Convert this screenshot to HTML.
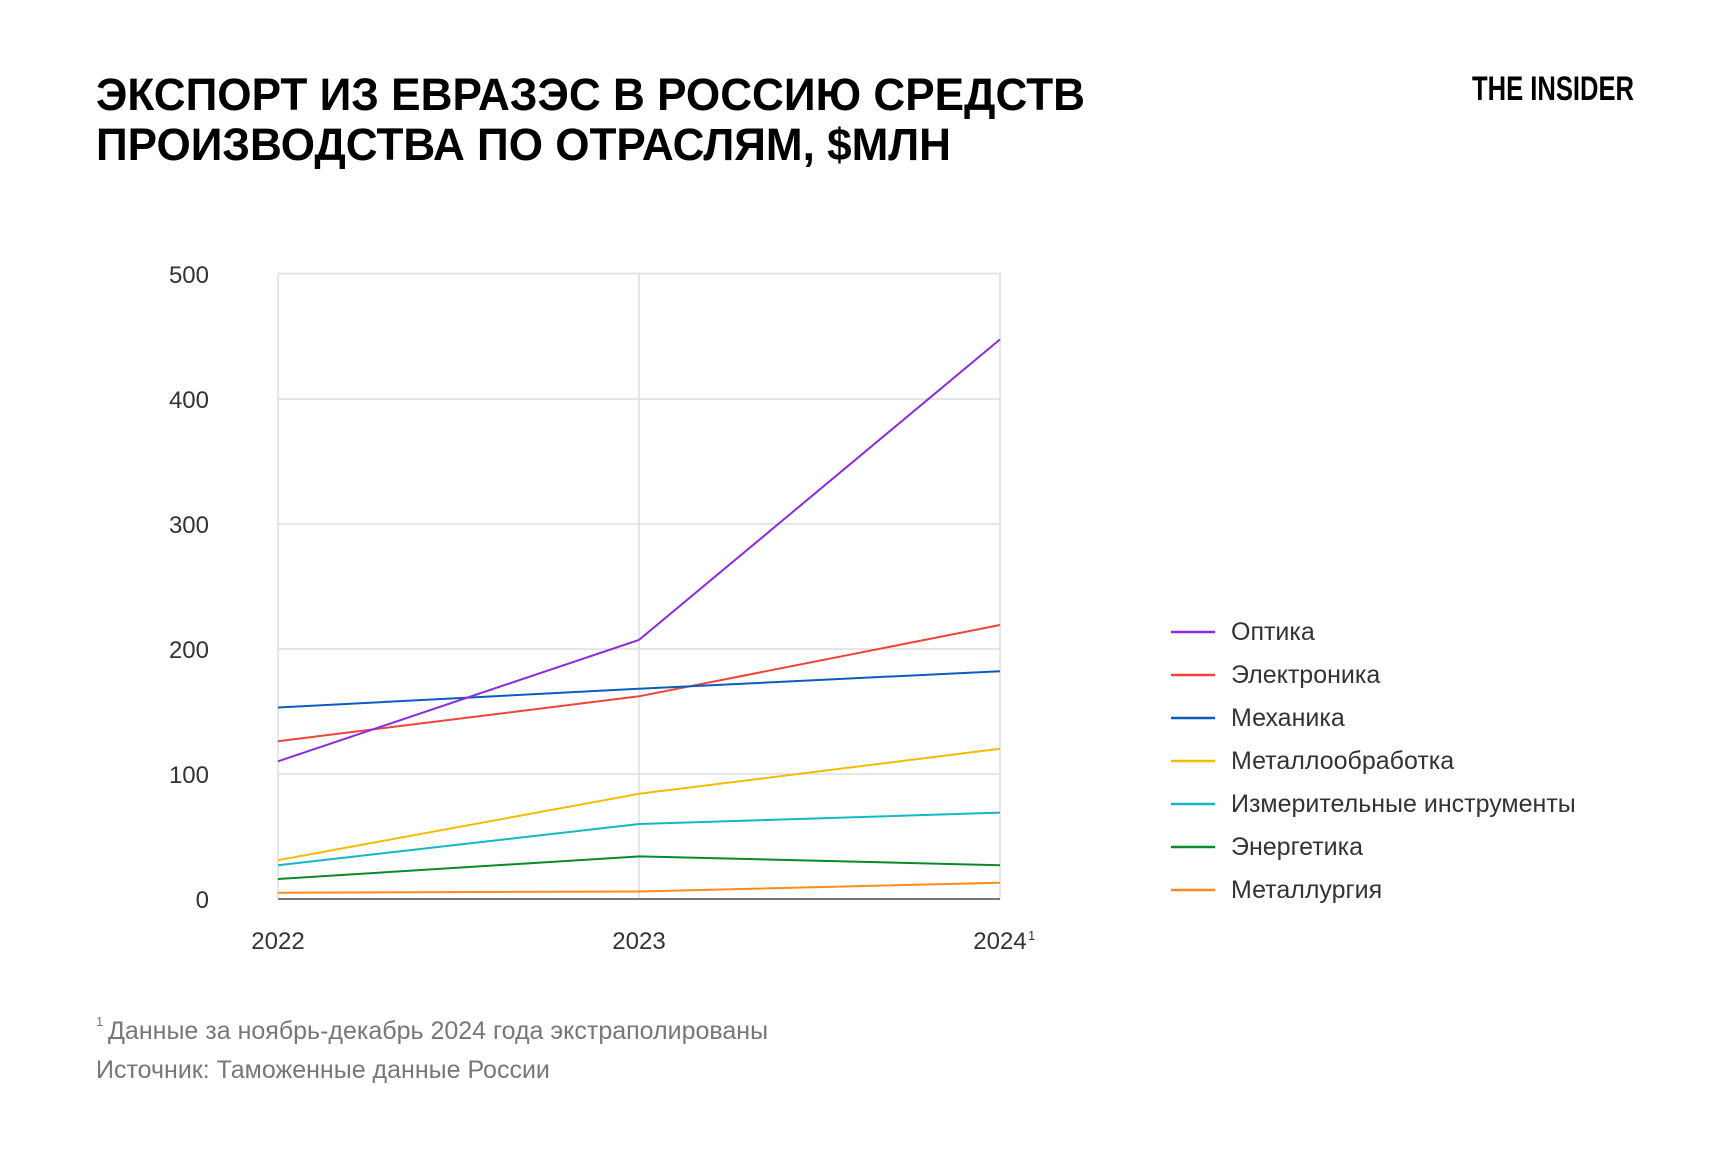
<!DOCTYPE html>
<html><head><meta charset="utf-8"><style>
html,body{margin:0;padding:0;background:#fff;}
body{width:1732px;height:1155px;overflow:hidden;position:relative;font-family:"Liberation Sans",sans-serif;}
</style></head><body>
<svg width="1732" height="1155" xmlns="http://www.w3.org/2000/svg" style="position:absolute;left:0;top:0">
<text x="96" y="110" font-family="Liberation Sans, sans-serif" font-weight="bold" font-size="45" fill="#000" textLength="989" lengthAdjust="spacingAndGlyphs">ЭКСПОРТ ИЗ ЕВРАЗЭС В РОССИЮ СРЕДСТВ</text>
<text x="96" y="160" font-family="Liberation Sans, sans-serif" font-weight="bold" font-size="45" fill="#000" textLength="855" lengthAdjust="spacingAndGlyphs">ПРОИЗВОДСТВА ПО ОТРАСЛЯМ, $МЛН</text>
<text x="1472" y="100" font-family="Liberation Sans, sans-serif" font-weight="bold" font-size="34" fill="#000" textLength="162" lengthAdjust="spacingAndGlyphs">THE INSIDER</text>
<g stroke="#ddd" stroke-width="1.5">
<line x1="278" y1="273.5" x2="1000" y2="273.5"/>
<line x1="278" y1="399" x2="1000" y2="399"/>
<line x1="278" y1="524" x2="1000" y2="524"/>
<line x1="278" y1="649" x2="1000" y2="649"/>
<line x1="278" y1="774" x2="1000" y2="774"/>
<line x1="278" y1="273" x2="278" y2="899"/>
<line x1="639" y1="273" x2="639" y2="899"/>
<line x1="1000" y1="273" x2="1000" y2="899"/>
</g>
<line x1="278" y1="899" x2="1000" y2="899" stroke="#777" stroke-width="2"/>
<g font-family="Liberation Sans, sans-serif" font-size="24" fill="#333" text-anchor="end">
<text x="209" y="283">500</text><text x="209" y="408">400</text><text x="209" y="533">300</text><text x="209" y="658">200</text><text x="209" y="783">100</text><text x="209" y="908">0</text>
</g>
<g font-family="Liberation Sans, sans-serif" font-size="24" fill="#333" text-anchor="middle">
<text x="278" y="949">2022</text><text x="639" y="949">2023</text><text x="1000" y="949">2024</text>
</g>
<text x="1028" y="940" font-family="Liberation Sans, sans-serif" font-size="13" fill="#333">1</text>
<g fill="none" stroke-width="2">
<polyline stroke="#ff8c1a" points="278,892.7 639,891.5 1000,882.7"/>
<polyline stroke="#0a8a2a" points="278,879 639,856.4 1000,865.2"/>
<polyline stroke="#14b8c4" points="278,865.2 639,824 1000,812.6"/>
<polyline stroke="#f5bb00" points="278,860.2 639,793.8 1000,748.8"/>
<polyline stroke="#f0443a" points="278,741.2 639,696.3 1000,625"/>
<polyline stroke="#0b5cc2" points="278,707.5 639,688.7 1000,671.2"/>
<polyline stroke="#8a2be2" points="278,761.3 639,639.9 1000,339.4"/>
</g>
<g stroke-width="2.5">
<line x1="1171" y1="632" x2="1215" y2="632" stroke="#8a2be2"/>
<line x1="1171" y1="675" x2="1215" y2="675" stroke="#f0443a"/>
<line x1="1171" y1="718" x2="1215" y2="718" stroke="#0b5cc2"/>
<line x1="1171" y1="761" x2="1215" y2="761" stroke="#f5bb00"/>
<line x1="1171" y1="804" x2="1215" y2="804" stroke="#14b8c4"/>
<line x1="1171" y1="847" x2="1215" y2="847" stroke="#0a8a2a"/>
<line x1="1171" y1="890" x2="1215" y2="890" stroke="#ff8c1a"/>
</g>
<g font-family="Liberation Sans, sans-serif" font-size="25" fill="#333">
<text x="1231" y="640">Оптика</text>
<text x="1231" y="683">Электроника</text>
<text x="1231" y="726">Механика</text>
<text x="1231" y="769">Металлообработка</text>
<text x="1231" y="812">Измерительные инструменты</text>
<text x="1231" y="855">Энергетика</text>
<text x="1231" y="898">Металлургия</text>
</g>
<text x="96" y="1026" font-family="Liberation Sans, sans-serif" font-size="13" fill="#777">1</text>
<text x="108" y="1039" font-family="Liberation Sans, sans-serif" font-size="25" fill="#777">Данные за ноябрь-декабрь 2024 года экстраполированы</text>
<text x="96" y="1078" font-family="Liberation Sans, sans-serif" font-size="25" fill="#777">Источник: Таможенные данные России</text>
</svg>
</body></html>
